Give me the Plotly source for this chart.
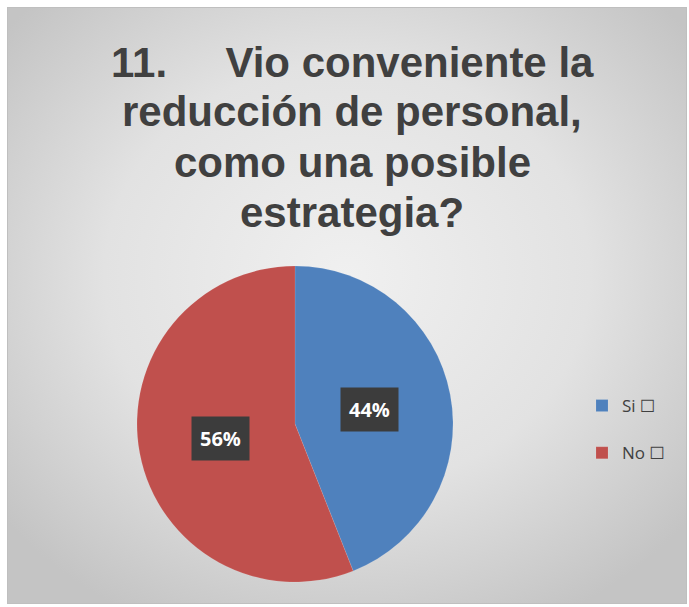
import base64, math
import plotly.graph_objects as go

categories = ["Si", "No"]
values = [44, 56]
colors = ["#4F81BD", "#C0504D"]
title_lines = ["11.\u00a0\u00a0\u00a0\u00a0\u00a0Vio conveniente la", "reducción de personal,", "como una posible", "estrategia?"]

W, H = 689, 607
# pie geometry in pixels
cx, cy, R = 295, 424, 158

svg = f'''<svg xmlns="http://www.w3.org/2000/svg" width="{W}" height="{H}" viewBox="0 0 {W} {H}" preserveAspectRatio="none">
<defs><radialGradient id="g" cx="50%" cy="45%" r="65%">
<stop offset="0%" stop-color="#F0F0F0"/><stop offset="55%" stop-color="#E2E2E2"/><stop offset="100%" stop-color="#C4C4C4"/></radialGradient></defs>
<rect x="0" y="0" width="{W}" height="{H}" fill="#FFFFFF"/>
<rect x="7.5" y="7.5" width="679" height="596" fill="url(#g)" stroke="#BFBFBF" stroke-width="1"/>
</svg>'''
bg = "data:image/svg+xml;base64," + base64.b64encode(svg.encode()).decode()

# legend entries: second (blank) line gives the wider item spacing of the original
legend_labels = [c + " \u2610<br>\u00a0" for c in categories]

fig = go.Figure()
fig.add_trace(go.Pie(
    labels=legend_labels,
    values=values,
    sort=False,
    direction="clockwise",
    rotation=0,
    marker=dict(colors=colors, line=dict(color="rgba(255,255,255,0.2)", width=0.5)),
    textinfo="none",
    hoverinfo="percent",
    domain=dict(x=[(cx - R) / W, (cx + R) / W], y=[(H - cy - R) / H, (H - cy + R) / H]),
))

# data labels (percentages) in dark boxes, placed at slice mid-angles
total = sum(values)
cum = 0
for v in values:
    mid = (cum + v / 2) / total * 2 * math.pi
    cum += v
    px = cx + 0.48 * R * math.sin(mid)
    py = cy - 0.48 * R * math.cos(mid)
    fig.add_annotation(
        x=px / W, y=1 - py / H, xref="paper", yref="paper",
        xanchor="center", yanchor="middle",
        text=f"<b>{round(v / total * 100)}%</b>", showarrow=False,
        font=dict(family="Open Sans, DejaVu Sans", size=20, color="white"),
        bgcolor="#3C3C3C", borderpad=8,
    )

for i, t in enumerate(title_lines):
    fig.add_annotation(
        x=352 / W, y=1 - (62 + 50 * i) / H, xref="paper", yref="paper",
        text=f"<b>{t}</b>", showarrow=False,
        font=dict(family="Liberation Sans, Arial", size=42, color="#404040"),
        xanchor="center", yanchor="middle",
    )

fig.update_layout(
    width=W, height=H,
    margin=dict(l=0, r=0, t=0, b=0),
    paper_bgcolor="white",
    images=[dict(source=bg, xref="paper", yref="paper", x=0, y=1, sizex=1, sizey=1,
                 xanchor="left", yanchor="top", sizing="stretch", layer="below")],
    legend=dict(x=582 / W, y=1 - 388 / H, xanchor="left", yanchor="top", valign="top",
                font=dict(family="Open Sans, DejaVu Sans", size=17, color="#404040"),
                bgcolor="rgba(0,0,0,0)"),
)

fig.write_html("out.html", config={"displayModeBar": False},
               post_script="document.body.style.margin='0';")
